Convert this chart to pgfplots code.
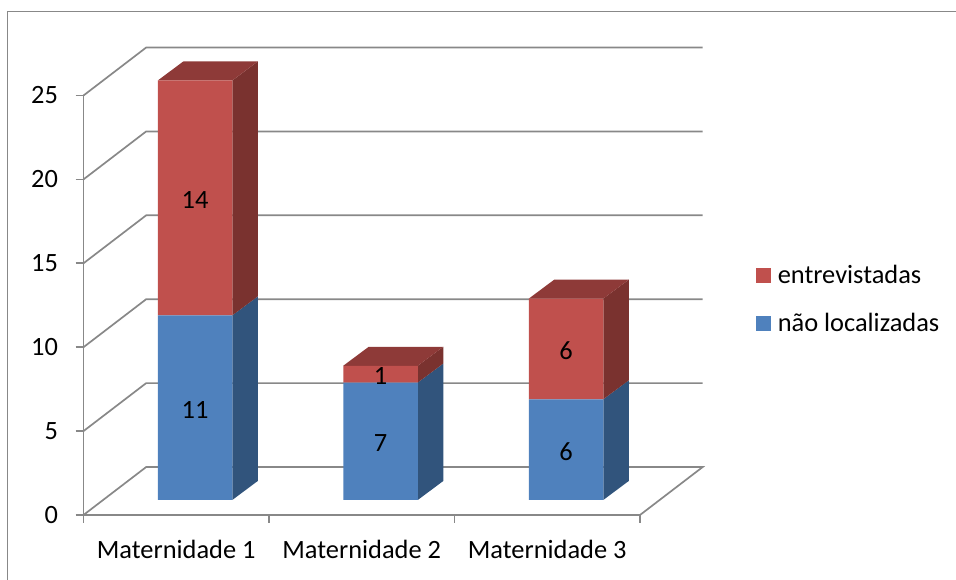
\documentclass[border=0pt]{standalone}
\usepackage{fontspec}
\setmainfont{Carlito}
\usepackage{pgfplots}
\pgfplotsset{compat=1.18}

\definecolor{linegray}{HTML}{888888}
\definecolor{blueface}{HTML}{4F81BD}
\definecolor{blueside}{HTML}{31547C}
\definecolor{redface}{HTML}{C0504D}
\definecolor{redside}{HTML}{7A322F}
\definecolor{redtop}{HTML}{8E3A38}

\pgfplotsset{
  base/.style={
    scale only axis, width=556.5pt, height=419.5pt,
    anchor=south west,
    xmin=0.5, xmax=3.5, ymin=0, ymax=25,
    clip=false,
  },
  % bars stand a little behind the front of the floor
  barplane/.style={base, at={(102.25pt,80pt)}, hide axis},
  wall/.style={linegray, line width=1.7pt, forget plot},
}

\begin{document}
\begin{tikzpicture}[x=1pt,y=1pt]
\path[use as bounding box] (0,0) rectangle (956,580);
\draw[linegray, line width=1.1pt] (7.5,0) -- (7.5,568.5) -- (956,568.5);

% walls, floor and axes
\begin{axis}[
    base, at={(83.5pt,65pt)},
    axis lines=left,
    axis line style={linegray, line width=1.7pt, -},
    tick style={linegray, line width=1.7pt},
    tick align=outside,
    major tick length=8pt,
    xtick={0.5,1.5,2.5,3.5},
    xticklabels={Maternidade 1,Maternidade 2,Maternidade 3,},
    xticklabel style={font=\fontsize{26.4}{29}\selectfont, xshift=92.75pt, anchor=base, yshift=-36pt},
    ytick={0,5,10,15,20,25},
    yticklabel style={font=\fontsize{26.4}{29}\selectfont, /pgf/number format/assume math mode=true, xshift=-14pt},
]
\addplot[wall] coordinates {(0.5,0) (0.838,2.86) (3.838,2.86) (3.5,0)};
\addplot[wall] coordinates {(0.5,5) (0.838,7.86) (3.838,7.86)};
\addplot[wall] coordinates {(0.5,10) (0.838,12.86) (3.838,12.86)};
\addplot[wall] coordinates {(0.5,15) (0.838,17.86) (3.838,17.86)};
\addplot[wall] coordinates {(0.5,20) (0.838,22.86) (3.838,22.86)};
\addplot[wall] coordinates {(0.5,25) (0.838,27.86) (3.838,27.86)};
\end{axis}

% side and top faces of the bars
\begin{axis}[barplane]
\addplot[fill=blueside, draw=none] coordinates {(1.2008,0) (1.3383,1.132) (1.3383,12.132) (1.2008,11)} -- cycle;
\addplot[fill=redside, draw=none] coordinates {(1.2008,11) (1.3383,12.132) (1.3383,26.132) (1.2008,25)} -- cycle;
\addplot[fill=redtop, draw=none] coordinates {(0.7992,25) (0.9367,26.132) (1.3383,26.132) (1.2008,25)} -- cycle;
\addplot[fill=blueside, draw=none] coordinates {(2.2008,0) (2.3383,1.132) (2.3383,8.132) (2.2008,7)} -- cycle;
\addplot[fill=redside, draw=none] coordinates {(2.2008,7) (2.3383,8.132) (2.3383,9.132) (2.2008,8)} -- cycle;
\addplot[fill=redtop, draw=none] coordinates {(1.7992,8) (1.9367,9.132) (2.3383,9.132) (2.2008,8)} -- cycle;
\addplot[fill=blueside, draw=none] coordinates {(3.2008,0) (3.3383,1.132) (3.3383,7.132) (3.2008,6)} -- cycle;
\addplot[fill=redside, draw=none] coordinates {(3.2008,6) (3.3383,7.132) (3.3383,13.132) (3.2008,12)} -- cycle;
\addplot[fill=redtop, draw=none] coordinates {(2.7992,12) (2.9367,13.132) (3.3383,13.132) (3.2008,12)} -- cycle;
\end{axis}

% front faces
\begin{axis}[
    barplane,
    ybar stacked, bar width=74.5pt,
    reverse legend,
    legend cell align=left,
    legend style={
      at={(rel axis cs:1,0)}, anchor=south west,
      xshift=97pt, yshift=165pt,
      draw=none, fill=none, inner sep=0pt, outer sep=0pt,
      font=\fontsize{26.4}{29}\selectfont,
      /tikz/every odd column/.style={column sep=5pt},
      row sep=24pt,
    },
    legend image code/.code={\fill[#1] (0pt,-7.5pt) rectangle (15pt,7.5pt);},
]
\addplot[fill=blueface, draw=none] coordinates {(1,11) (2,7) (3,6)};
\addplot[fill=redface, draw=none] coordinates {(1,14) (2,1) (3,6)};
\legend{n\~ao localizadas, entrevistadas}
\end{axis}

% value labels, centred on each segment
\begin{axis}[
    barplane,
    point meta=explicit symbolic,
    nodes near coords,
    nodes near coords style={anchor=center, yshift=-2pt, font=\fontsize{26.4}{29}\selectfont, text=black, inner sep=0pt},
]
\addplot[draw=none, mark=none] coordinates {(1,5.5)[11] (2,3.5)[7] (3,3)[6]};
\addplot[draw=none, mark=none] coordinates {(1,18)[14] (2,7.5)[1] (3,9)[6]};
\end{axis}
\end{tikzpicture}
\end{document}
